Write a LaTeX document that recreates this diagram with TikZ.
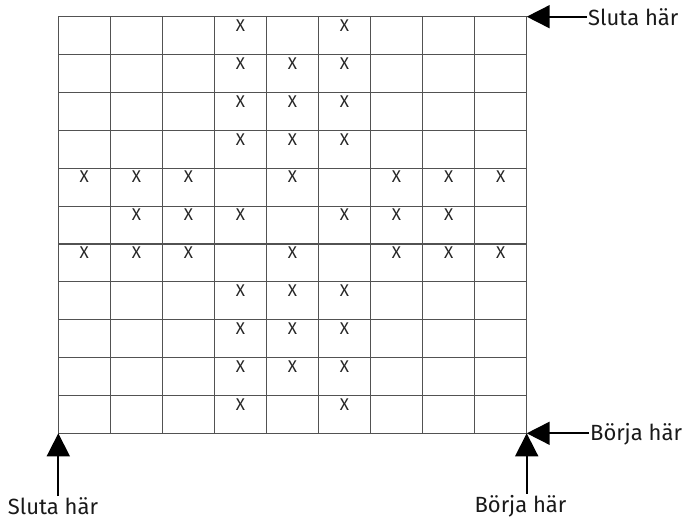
\documentclass[tikz,border=0pt]{standalone}
\usepackage{fontspec}
\setmainfont{Fira Sans}
\usetikzlibrary{arrows.meta,positioning}

\begin{document}
\begin{tikzpicture}[
            x=1pt, y=-1pt,
            cell/.style={draw=black!68, line width=1.2pt},
            xmark/.style={anchor=north, inner sep=0pt, text=black!85, font=\fontsize{17}{17}\selectfont},
            lbl/.style={inner sep=1pt, text=black!90, font=\fontsize{22}{22}\selectfont},
            pil/.style={-{Triangle[length=23pt,width=23pt]}, line width=1.7pt},
        ]
        \useasboundingbox (0,0) rectangle (682,524);
        \def\cw{52.04}
        \def\ch{37.88}

        % grid corners
        \coordinate (tl) at (58.3,16.7);
        \coordinate (tr) at (526.7,16.7);
        \coordinate (bl) at (58.3,433.3);
        \coordinate (br) at (526.7,433.3);

        % grid lines
        \foreach \c in {0,...,9}
            \draw[cell] (58.3+\c*\cw,16.7) -- (58.3+\c*\cw,433.3);
        \foreach \r in {0,...,11}
            \draw[cell] (58.3,16.7+\r*\ch) -- (526.7,16.7+\r*\ch);

        % stitches
        \foreach \r/\cols in {1/{4,6}, 2/{4,5,6}, 3/{4,5,6}, 4/{4,5,6},
                              5/{1,2,3,5,7,8,9}, 6/{2,3,4,6,7,8}, 7/{1,2,3,5,7,8,9},
                              8/{4,5,6}, 9/{4,5,6}, 10/{4,5,6}, 11/{4,6}}
            \foreach \c in \cols
                \node[xmark] (x\r-\c) at (58.3+\c*\cw-0.5*\cw,19.5+\r*\ch-\ch) {X};

        % labels
        \node[lbl, anchor=west] (stop1) at (587,17) {Sluta här};
        \node[lbl] (stop2) at (53,506) {Sluta här};
        \node[lbl, anchor=west] (start1) at (589,434) {Börja här};
        \node[lbl] (start2) at (520.5,506) {Börja här};

        \draw[pil] (stop1.west |- tr) -- (tr);
        \draw[pil] (bl |- stop2.north) -- (bl);
        \draw[pil] (start1.west |- br) -- (br);
        \draw[pil] (br |- start2.north) -- (br);
    \end{tikzpicture}
\end{document}
